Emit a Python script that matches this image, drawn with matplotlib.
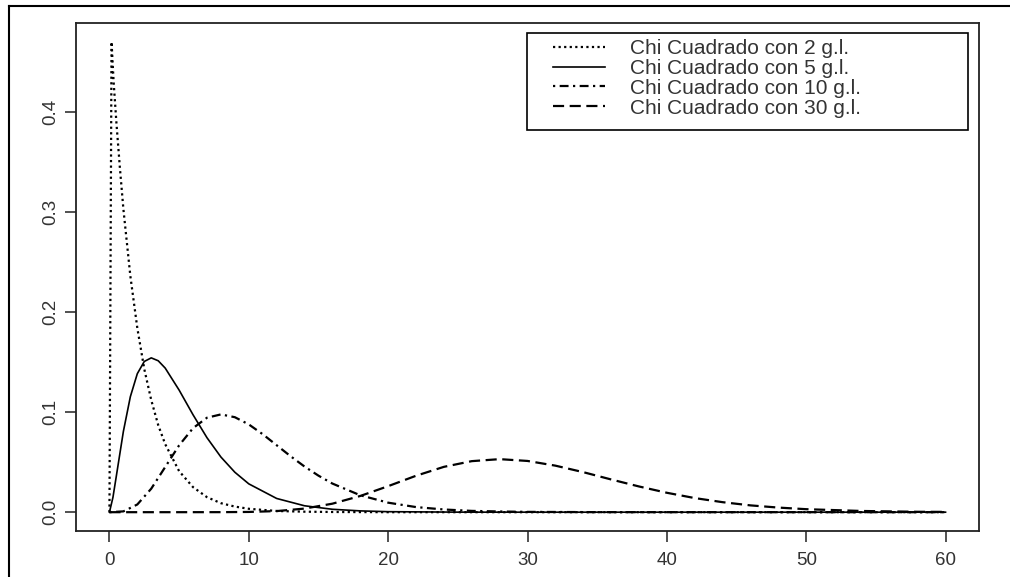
import matplotlib
matplotlib.use("Agg")
import matplotlib.pyplot as plt
from matplotlib.lines import Line2D
from matplotlib.patches import Rectangle

plt.rcParams['font.family'] = ['Liberation Sans', 'DejaVu Sans']

# curves
x_gl2 = [0, 0.15, 0.3, 0.5, 0.75, 1, 1.5, 2, 2.5, 3, 3.5, 4, 5, 6, 7, 8, 9, 10,
         12, 14, 16, 20, 25, 30, 40, 50, 60]
y_gl2 = [0, 0.47, 0.43, 0.389, 0.344, 0.303, 0.236, 0.184, 0.143, 0.112, 0.087,
         0.068, 0.041, 0.025, 0.015, 0.009, 0.0056, 0.0034, 0.0012, 0.0005,
         0.0002, 0, 0, 0, 0, 0, 0]

x_gl5 = [0, 0.25, 0.5, 1, 1.5, 2, 2.5, 3, 3.5, 4, 5, 6, 7, 8, 9, 10, 12, 14,
         16, 18, 20, 25, 30, 40, 50, 60]
y_gl5 = [0, 0.0147, 0.0366, 0.0807, 0.1154, 0.1384, 0.1506, 0.1542, 0.1513,
         0.144, 0.122, 0.0973, 0.0744, 0.0551, 0.0399, 0.0283, 0.0137, 0.0064,
         0.0029, 0.0013, 0.0005, 0.00004, 0, 0, 0, 0]

x_gl10 = [0, 1, 2, 3, 4, 5, 6, 7, 8, 9, 10, 11, 12, 13, 14, 15, 16, 18, 20,
          22, 24, 26, 28, 30, 35, 40, 50, 60]
y_gl10 = [0, 0.0008, 0.0077, 0.0235, 0.0451, 0.0668, 0.084, 0.0944, 0.0977,
          0.0949, 0.0877, 0.0779, 0.0669, 0.0559, 0.0456, 0.0365, 0.0286,
          0.0169, 0.0095, 0.0051, 0.0027, 0.0013, 0.0007, 0.0003, 0.00005,
          0, 0, 0]

x_gl30 = [0, 5, 8, 10, 12, 14, 16, 18, 20, 22, 24, 26, 28, 30, 32, 34, 36, 38,
          40, 42, 44, 46, 48, 50, 54, 58, 60]
y_gl30 = [0, 0, 0.00003, 0.00024, 0.0011, 0.0036, 0.0085, 0.0162, 0.026,
          0.0364, 0.0453, 0.051, 0.053, 0.0512, 0.0465, 0.04, 0.0327, 0.0257,
          0.0194, 0.0141, 0.01, 0.0068, 0.0046, 0.003, 0.0012, 0.0004, 0.0003]

labels = ["Chi Cuadrado con 2 g.l.", "Chi Cuadrado con 5 g.l.",
          "Chi Cuadrado con 10 g.l.", "Chi Cuadrado con 30 g.l."]

W, H = 1010, 577
fig = plt.figure(figsize=(W / 100, H / 100), dpi=100)
ax = fig.add_axes([76 / W, 1 - 531 / H, (979 - 76) / W, (531 - 23) / H])

lw = 1.6
ax.plot(x_gl2, y_gl2, color='black', lw=lw, ls=(0, (1, 1.5)), label=labels[0])
ax.plot(x_gl5, y_gl5, color='black', lw=1.2, ls='-', label=labels[1])
ax.plot(x_gl10, y_gl10, color='black', lw=lw, ls=(0, (1, 2, 4, 2)), label=labels[2])
ax.plot(x_gl30, y_gl30, color='black', lw=lw, ls=(0, (5, 2.5)), label=labels[3])

ax.set_xlim(-2.4, 62.4)
ax.set_ylim(-0.0188, 0.4888)
ax.set_xticks([0, 10, 20, 30, 40, 50, 60])
ax.set_yticks([0, 0.1, 0.2, 0.3, 0.4])
ax.set_yticklabels(["0.0", "0.1", "0.2", "0.3", "0.4"], rotation=90, va='center')
ax.tick_params(length=8, width=1.2, labelsize=13.5, colors='#333333')
ax.tick_params(axis='x', pad=7)
ax.tick_params(axis='y', pad=4)
for s in ax.spines.values():
    s.set_linewidth(1.3)
    s.set_color('#222222')

# legend contents placed without frame, box drawn separately (R style)
leg = ax.legend(loc='upper left', bbox_to_anchor=(553 / W, 1 - 39 / H),
                bbox_transform=fig.transFigure, frameon=False, fontsize=15,
                handlelength=2.5, handletextpad=1.2, labelspacing=0.04,
                borderpad=0, borderaxespad=0)
for t in leg.get_texts():
    t.set_color('#333333')
fig.add_artist(Rectangle((527 / W, 1 - 130 / H), (968 - 527) / W, 97 / H,
                         transform=fig.transFigure, fill=False,
                         edgecolor='black', lw=1.2))

# outer frame (top and left edges only)
fig.add_artist(Line2D([9 / W, 1], [1 - 6 / H, 1 - 6 / H], color='black', lw=1.5))
fig.add_artist(Line2D([9 / W, 9 / W], [0, 1 - 6 / H], color='black', lw=1.5))

fig.savefig('out.png', dpi=100)
